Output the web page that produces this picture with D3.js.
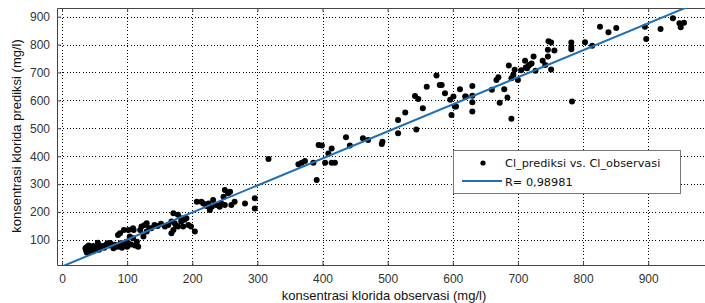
<!DOCTYPE html>
<html>
<head>
<meta charset="utf-8">
<script src="https://cdn.jsdelivr.net/npm/d3@7"></script>
<style>
  body { margin: 0; background: #fff; }
  svg { font-family: "Liberation Sans", Arial, sans-serif; }
</style>
</head>
<body>
<svg id="chart" width="705" height="303"></svg>
<script>
const obsX = [
  36,37,38,38,40,41,42,44,45,47,48,50,52,54,55,56,57,58,
  62,65,68,70,72,74,76,79,81,84,86,88,89,90,92,94,95,97,99,100,102,102,104,106,109,109,110,112,115,117,
  120,122,125,127,130,130,134,137,142,147,152,158,163,168,168,171,171,173,175,178,178,183,183,186,188,191,194,198,204,
  207,214,217,222,225,227,230,232,237,242,245,248,250,250,255,258,260,265,281,296,296,
  317,363,368,373,386,391,394,399,404,409,414,414,419,436,442,462,470,491,492,
  516,516,527,542,544,547,554,560,575,580,583,588,596,598,601,603,605,611,619,620,630,630,630,630,
  660,667,670,672,679,684,686,690,690,693,695,700,705,711,712,714,716,718,721,724,727,738,742,746,746,747,751,751,756,
  782,782,782,783,803,814,826,839,851,895,897,919,938,948,950,955
];
const predY = [
  70,62,55,75,65,80,60,70,73,66,78,62,70,68,90,80,65,73,
  78,72,84,88,80,89,82,70,83,76,118,77,124,88,72,82,136,80,94,76,136,88,112,84,142,106,136,80,94,76,
  136,148,112,154,160,130,142,142,154,150,158,148,154,166,124,196,136,160,152,190,148,178,166,148,172,178,154,148,130,
  237,237,231,222,231,207,219,243,225,219,230,255,279,225,267,273,225,237,231,249,213,
  390,371,377,383,377,315,440,438,377,410,428,377,377,468,438,464,458,444,452,
  530,482,557,616,496,605,572,649,689,655,655,626,602,548,614,578,578,640,614,614,652,617,593,560,
  638,673,683,592,640,610,725,534,679,692,710,673,708,742,718,715,723,728,732,757,706,742,727,781,757,812,807,711,779,
  807,793,783,596,808,796,864,844,859,864,820,856,894,876,862,878
];
// least-squares line drawn in the figure
const fitX = [-10, 1000];
const fitY = [-4.7, 973];
const xTicks = [0, 100, 200, 300, 400, 500, 600, 700, 800, 900];
const yTicks = [100, 200, 300, 400, 500, 600, 700, 800, 900];
const legendLabels = ["Cl_prediksi vs. Cl_observasi", "R= 0,98981"];

const svg = d3.select("#chart");
const plotL = 57, plotT = 8, plotR = 712, plotB = 265;
const x = d3.scaleLinear().domain([-7.7, 998]).range([plotL, plotR]);
const y = d3.scaleLinear().domain([10.3, 931]).range([plotB, plotT]);

svg.append("defs").append("clipPath").attr("id", "plot")
  .append("rect").attr("x", plotL).attr("y", plotT)
  .attr("width", plotR - plotL).attr("height", plotB - plotT);

// dotted grid
const grid = svg.append("g").attr("stroke", "#000").attr("stroke-width", 1)
  .attr("stroke-dasharray", "1,2.2").attr("shape-rendering", "crispEdges");
grid.selectAll(".gx").data(xTicks).enter().append("line")
  .attr("x1", d => Math.round(x(d)) + 0.5).attr("x2", d => Math.round(x(d)) + 0.5)
  .attr("y1", plotT).attr("y2", plotB);
grid.selectAll(".gy").data(yTicks).enter().append("line")
  .attr("y1", d => Math.round(y(d)) + 0.5).attr("y2", d => Math.round(y(d)) + 0.5)
  .attr("x1", plotL).attr("x2", plotR);

// box with inward ticks
svg.append("g").attr("transform", `translate(0,${plotB})`)
  .call(d3.axisBottom(x).tickValues(xTicks).tickSizeInner(-4).tickSizeOuter(0).tickPadding(9))
  .call(g => g.selectAll("text").attr("fill", "#333").style("font-size", "12px"));
svg.append("g").attr("transform", `translate(0,${plotT})`)
  .call(d3.axisTop(x).tickValues(xTicks).tickSizeInner(-4).tickSizeOuter(0).tickFormat(""));
svg.append("g").attr("transform", `translate(${plotL},0)`)
  .call(d3.axisLeft(y).tickValues(yTicks).tickSizeInner(-4).tickSizeOuter(0).tickPadding(7))
  .call(g => g.selectAll("text").attr("fill", "#333").style("font-size", "12px"));
svg.selectAll(".domain").attr("stroke", "#444");
svg.selectAll(".tick line").attr("stroke", "#444");

// points
svg.append("g").attr("clip-path", "url(#plot)")
  .selectAll("circle").data(obsX).enter().append("circle")
  .attr("cx", d => x(d)).attr("cy", (d, i) => y(predY[i]))
  .attr("r", 3).attr("fill", "#000");

// fit line
svg.append("path").attr("clip-path", "url(#plot)")
  .datum(fitX.map((d, i) => [d, fitY[i]]))
  .attr("d", d3.line().x(d => x(d[0])).y(d => y(d[1])))
  .attr("fill", "none").attr("stroke", "#1f6fb4").attr("stroke-width", 2);

// legend
const lg = svg.append("g");
lg.append("rect").attr("x", 453.5).attr("y", 150.5).attr("width", 227).attr("height", 43)
  .attr("fill", "#fff").attr("stroke", "#777");
lg.append("circle").attr("cx", 483).attr("cy", 163).attr("r", 2.6).attr("fill", "#000");
lg.append("line").attr("x1", 462).attr("x2", 502).attr("y1", 181).attr("y2", 181)
  .attr("stroke", "#1f6fb4").attr("stroke-width", 2);
lg.selectAll("text").data(legendLabels).enter().append("text")
  .attr("x", 505).attr("y", (d, i) => 167 + i * 19)
  .style("font-family", "'DejaVu Sans', sans-serif").style("font-size", "11.3px")
  .attr("fill", "#111").text(d => d);

// axis titles
svg.append("text").attr("x", 384).attr("y", 300).attr("text-anchor", "middle")
  .style("font-size", "13px").attr("fill", "#111").text("konsentrasi klorida observasi (mg/l)");
svg.append("text").attr("transform", "translate(21,136) rotate(-90)").attr("text-anchor", "middle")
  .style("font-size", "13px").attr("fill", "#111").text("konsentrasi klorida prediksi (mg/l)");
</script>
</body>
</html>
